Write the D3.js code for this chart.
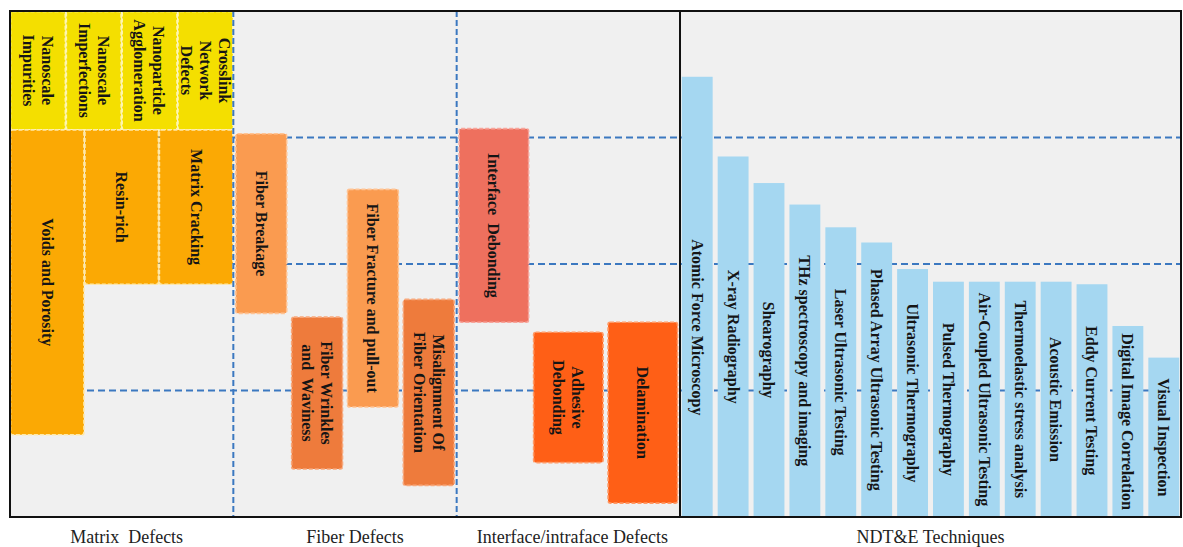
<!DOCTYPE html>
<html><head><meta charset="utf-8">
<script src="https://cdn.jsdelivr.net/npm/d3@7"></script>
<style>body{margin:0;background:#fff}svg{display:block}</style>
</head><body><svg id="c" width="1183" height="547"></svg>
<script>
// ---- data ----
const groupLabels = ["Matrix  Defects", "Fiber Defects", "Interface/intraface Defects", "NDT&E Techniques"];
const gridValues = [1, 2, 3];

const defectNames = [
  "Nanoscale\nImpurities", "Nanoscale\nImperfections", "Nanoparticle\nAgglomeration", "Crosslink\nNetwork\nDefects",
  "Voids and Porosity", "Resin-rich", "Matrix Cracking",
  "Fiber Breakage", "Fiber Wrinkles\nand  Waviness", "Fiber Fracture and pull-out", "Misalignment Of\nFiber Orientation",
  "Interface  Debonding", "Adhesive\nDebonding", "Delamination"
];
const defectGroup     = [0, 0, 0, 0, 0, 0, 0, 1, 1, 1, 1, 2, 2, 2];
const defectSlotStart = [0, 3, 6, 9, 0, 4, 8, 0, 3, 6, 9, 0, 4, 8];
const defectSlotEnd   = [3, 6, 9, 12, 4, 8, 12, 3, 6, 9, 12, 4, 8, 12];
const defectLow       = [3.06, 3.06, 3.06, 3.06, 0.65, 1.84, 1.84, 1.61, 0.38, 0.87, 0.25, 1.54, 0.43, 0.11];
const defectHigh      = [4.00, 4.00, 4.00, 4.00, 3.06, 3.06, 3.06, 3.03, 1.58, 2.59, 1.72, 3.07, 1.46, 1.54];
const defectTier      = ["nano", "nano", "nano", "nano", "matrix", "matrix", "matrix",
                         "fiberA", "fiberB", "fiberA", "fiberB", "interA", "interB", "interB"];

const techniques = [
  "Atomic Force Microscopy", "X-ray Radiography", "Shearography", "THz spectroscopy and imaging",
  "Laser Ultrasonic Testing", "Phased Array Ultrasonic Testing", "Ultrasonic Thermography",
  "Pulsed Thermography", "Air-Coupled Ultrasonic Testing", "Thermoelastic stress analysis",
  "Acoustic Emission", "Eddy Current Testing", "Digital Image Correlation", "Visual Inspection"
];
const techniqueValues = [3.48, 2.85, 2.64, 2.47, 2.29, 2.17, 1.96, 1.86, 1.86, 1.86, 1.86, 1.84, 1.51, 1.26];

// ---- styles ----
const tierFill = {nano: "#F4DF00", matrix: "#FBA904", fiberA: "#FA9B50", fiberB: "#EE7B3C", interA: "#EE705E", interB: "#FF5F16"};
const tierStroke = {nano: "#FFF6B0", matrix: "#FFE9A8", fiberA: "#FFC393", fiberB: "#F8A77A", interA: "#F7A49A", interB: "#FF9A66"};
const FONT = "'Liberation Serif','Times New Roman',Times,serif";
const groupLabelShift = [5, 10, 4, 0];

const L = 10, T = 11, R = 1181, B = 517, SPLIT = 680;
const svg = d3.select("#c");

const y = d3.scaleLinear().domain([0, 4]).range([B, T]);
const xDef = d3.scaleLinear().domain([0, 36]).range([L, SPLIT]);
const xTech = d3.scaleBand().domain(techniques).range([SPLIT, R]).paddingInner(0.14).paddingOuter(0.05);

// background
svg.append("rect").attr("x", L).attr("y", T).attr("width", R - L).attr("height", B - T).attr("fill", "#F0F0F0");

// horizontal grid (dashed)
svg.append("g").selectAll("line").data(gridValues).join("line")
  .attr("x1", L).attr("x2", R).attr("y1", d => y(d)).attr("y2", d => y(d))
  .attr("stroke", "#3B78C0").attr("stroke-width", 2).attr("stroke-dasharray", "7,4");

// defect boxes
const defects = defectNames.map((n, i) => ({
  name: n, g: defectGroup[i], s0: defectSlotStart[i], s1: defectSlotEnd[i],
  lo: defectLow[i], hi: defectHigh[i], tier: defectTier[i]
}));
const dg = svg.append("g").selectAll("g").data(defects).join("g");
dg.append("rect")
  .attr("x", d => xDef(d.g * 12 + d.s0) + (d.g === 0 ? 0.5 : 2.5))
  .attr("width", d => xDef(d.g * 12 + d.s1) - xDef(d.g * 12 + d.s0) - (d.g === 0 ? 1 : 5))
  .attr("y", d => y(d.hi) + (d.tier === "nano" ? 0.5 : 0))
  .attr("height", d => y(d.lo) - y(d.hi) - (d.tier === "nano" ? 0.5 : 0))
  .attr("rx", 2)
  .attr("fill", d => tierFill[d.tier])
  .attr("stroke", d => tierStroke[d.tier]).attr("stroke-width", 1.6).attr("stroke-dasharray", "4,2");

function rotatedLabel(sel, cx, cy, lines, size, lh) {
  const t = sel.append("text")
    .attr("transform", `translate(${cx},${cy}) rotate(90)`)
    .attr("text-anchor", "middle")
    .attr("font-family", FONT).attr("font-weight", "bold").attr("font-size", size)
    .attr("fill", "#151515").style("white-space", "pre");
  const n = lines.length;
  lines.forEach((ln, k) => {
    t.append("tspan").attr("x", 0).attr("y", (k - (n - 1) / 2) * lh).attr("dy", "0.35em").text(ln);
  });
}
dg.each(function (d) {
  const cx = (xDef(d.g * 12 + d.s0) + xDef(d.g * 12 + d.s1)) / 2;
  const cy = (y(d.lo) + y(d.hi)) / 2;
  rotatedLabel(d3.select(this), cx, cy, d.name.split("\n"), 16, 19);
});

// technique bars
const bars = techniques.map((t, i) => ({name: t, v: techniqueValues[i]}));
const bg = svg.append("g").selectAll("g").data(bars).join("g");
bg.append("rect")
  .attr("x", d => xTech(d.name)).attr("width", xTech.bandwidth())
  .attr("y", d => y(d.v)).attr("height", d => y(0) - y(d.v))
  .attr("fill", "#A5D7F1");
bg.each(function (d) {
  const top = Math.max(y(d.v), y(gridValues[gridValues.length - 1]));
  rotatedLabel(d3.select(this), xTech(d.name) + xTech.bandwidth() / 2, (top + y(0)) / 2, [d.name], 16, 19);
});

// vertical dashed separators between defect groups
svg.append("g").selectAll("line").data([1, 2]).join("line")
  .attr("x1", d => xDef(d * 12)).attr("x2", d => xDef(d * 12))
  .attr("y1", T).attr("y2", B)
  .attr("stroke", "#3B78C0").attr("stroke-width", 2).attr("stroke-dasharray", "6,3");

// frame
svg.append("rect").attr("x", L).attr("y", T).attr("width", R - L).attr("height", B - T)
  .attr("fill", "none").attr("stroke", "#111").attr("stroke-width", 2);
svg.append("line").attr("x1", SPLIT).attr("x2", SPLIT).attr("y1", T).attr("y2", B)
  .attr("stroke", "#111").attr("stroke-width", 2);

// group labels
const groupCenters = [xDef(6), xDef(18), xDef(30), (SPLIT + R) / 2];
svg.append("g").selectAll("text").data(groupLabels).join("text")
  .attr("x", (d, i) => groupCenters[i] + groupLabelShift[i]).attr("y", 543)
  .attr("text-anchor", "middle").attr("font-family", FONT).attr("font-size", 18)
  .attr("fill", "#222").style("white-space", "pre").text(d => d);
</script></body></html>
